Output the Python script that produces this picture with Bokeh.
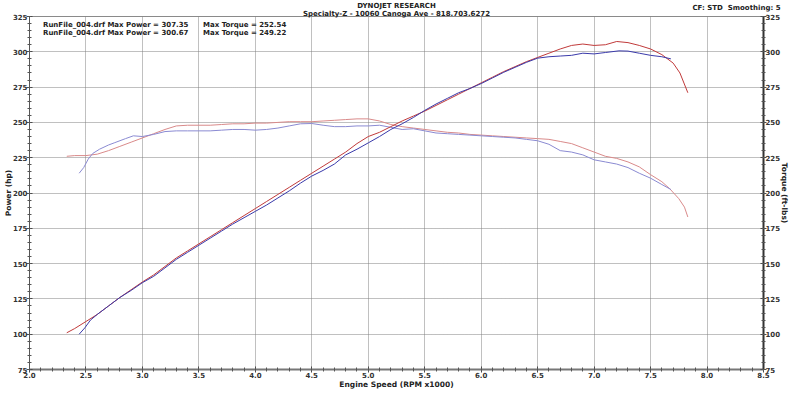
from bokeh.plotting import figure
from bokeh.models import (Range1d, LinearAxis, FixedTicker, PrintfTickFormatter,
                          Title, Legend, LegendItem, ColumnDataSource)
from bokeh.embed import file_html
from bokeh.resources import INLINE

# ---------------- data ----------------
rpm_power_red = [2.33, 2.40, 2.50, 2.60, 2.70, 2.80, 2.90, 3.00, 3.10, 3.20, 3.30, 3.40, 3.50,
                 3.60, 3.70, 3.80, 3.90, 4.00, 4.10, 4.20, 4.30, 4.40, 4.50, 4.60, 4.70, 4.80,
                 4.90, 5.00, 5.10, 5.20, 5.30, 5.40, 5.50, 5.60, 5.70, 5.80, 5.90, 6.00, 6.10,
                 6.20, 6.30, 6.40, 6.50, 6.60, 6.70, 6.80, 6.90, 7.00, 7.10, 7.20, 7.30, 7.40,
                 7.50, 7.60, 7.70, 7.76, 7.83]
hp_red = [101, 104, 109, 114, 120, 126, 131.5, 137, 142, 148, 154, 159, 164,
          169, 174, 179, 184, 189, 194, 199, 204, 209, 214, 219, 224, 229,
          235, 240, 243, 247, 251, 254.5, 258, 262, 266, 270, 274, 278, 282,
          286, 289.5, 293, 296, 299, 302, 304.5, 305.5, 304.5, 305, 307.3, 306.5, 304.5,
          302, 298, 292, 285, 271]

rpm_power_blue = [2.44, 2.49, 2.54, 2.60, 2.70, 2.80, 2.90, 3.00, 3.10, 3.20, 3.30, 3.40, 3.50,
                  3.60, 3.70, 3.80, 3.90, 4.00, 4.10, 4.20, 4.30, 4.40, 4.50, 4.60, 4.70, 4.80,
                  4.90, 5.00, 5.10, 5.20, 5.30, 5.40, 5.50, 5.60, 5.70, 5.80, 5.90, 6.00, 6.10,
                  6.20, 6.30, 6.40, 6.50, 6.60, 6.70, 6.80, 6.90, 7.00, 7.10, 7.22, 7.30, 7.40,
                  7.50, 7.60, 7.68]
hp_blue = [100, 104.5, 110, 114, 120, 126, 131, 136.5, 141, 147, 153, 158, 163,
           168, 173, 178, 182.5, 187, 191.5, 196.5, 201.5, 207, 212, 216, 220.5, 227,
           231, 235.5, 240, 245, 249, 253.5, 258.5, 263, 267, 271, 274, 277.5, 281.5,
           285.5, 289, 292.5, 295.5, 296.5, 297, 297.5, 299, 298.5, 299.5, 300.67, 300.5, 299,
           297.5, 296.5, 295]

rpm_torque_red = [2.33, 2.40, 2.50, 2.60, 2.70, 2.80, 2.90, 3.00, 3.10, 3.20, 3.30, 3.40, 3.50,
                  3.60, 3.70, 3.80, 3.90, 4.00, 4.10, 4.20, 4.30, 4.40, 4.50, 4.60, 4.70, 4.80,
                  4.90, 5.00, 5.10, 5.20, 5.30, 5.40, 5.50, 5.60, 5.70, 5.80, 5.90, 6.00, 6.10,
                  6.20, 6.30, 6.40, 6.50, 6.60, 6.70, 6.80, 6.90, 7.00, 7.10, 7.20, 7.30, 7.40,
                  7.50, 7.60, 7.67, 7.75, 7.80, 7.83]
tq_red = [226, 226.5, 226.5, 227.5, 230, 233, 236, 239, 242, 245, 247.5, 248, 248,
          248, 248.5, 249, 249, 249.5, 249.5, 250, 250.5, 250.5, 250.5, 251, 251.5, 252,
          252.5, 252.5, 251, 248.5, 247, 246, 245, 244, 243, 242.5, 241.5, 241, 240.5,
          240, 239.5, 239, 238.5, 238, 236.5, 235, 232, 229, 226, 224.5, 222, 218.5,
          213, 208, 203, 196, 190, 183]

rpm_torque_blue = [2.44, 2.48, 2.52, 2.56, 2.62, 2.70, 2.75, 2.85, 2.92, 3.00, 3.10, 3.20, 3.30,
                   3.40, 3.50, 3.60, 3.70, 3.80, 3.90, 4.00, 4.10, 4.20, 4.30, 4.40, 4.50, 4.60,
                   4.70, 4.80, 4.90, 5.00, 5.10, 5.20, 5.30, 5.40, 5.50, 5.60, 5.70, 5.80, 5.90,
                   6.00, 6.10, 6.20, 6.30, 6.40, 6.50, 6.60, 6.70, 6.80, 6.90, 7.00, 7.10, 7.20,
                   7.30, 7.40, 7.50, 7.60, 7.68]
tq_blue = [214, 218, 224, 228, 231, 234, 235.5, 238.5, 240.5, 240, 241.5, 243.5, 244,
           244, 244, 244, 244.5, 245, 245, 244.5, 245, 246, 247.5, 249, 249.22, 248,
           247, 247, 247.5, 247.5, 248, 246.5, 245, 245.5, 244, 242.5, 242, 241.5, 241,
           240.5, 240, 239.5, 239, 238, 237, 234.5, 230, 229, 227, 223.5, 222, 220.5,
           218, 214, 210.5, 206, 202.5]

x_ticks = [2.0, 2.5, 3.0, 3.5, 4.0, 4.5, 5.0, 5.5, 6.0, 6.5, 7.0, 7.5, 8.0, 8.5]
x_minor = [round(2.0 + 0.1 * i, 1) for i in range(66)]
y_ticks = [75, 100, 125, 150, 175, 200, 225, 250, 275, 300, 325]
y_minor = list(range(75, 326, 5))

legend_labels = [
    "RunFile_004.drf Max Power = 307.35\u00a0\u00a0\u00a0\u00a0\u00a0\u00a0Max Torque = 252.54",
    "RunFile_004.drf Max Power = 300.67\u00a0\u00a0\u00a0\u00a0\u00a0\u00a0Max Torque = 249.22",
]
title1 = "DYNOJET RESEARCH"
title2 = "Specialty-Z - 10060 Canoga Ave - 818.703.6272"
corner = "CF: STD\u00a0\u00a0Smoothing: 5"

# ---------------- styles ----------------
FONT = "DejaVu Sans"
RED = "#c03a3a"
BLUE = "#3a3aaa"
RED_T = "#d98a8a"
BLUE_T = "#8a8ad2"

p = figure(width=792, height=391, output_backend="svg", toolbar_location=None,
           x_range=Range1d(2.0, 8.5), y_range=Range1d(75, 325),
           min_border=0,
           background_fill_color="white", border_fill_color="white")
p.outline_line_color = "#8a8a8a"
p.outline_line_width = 1
p.extra_y_ranges = {"torque": Range1d(75, 325)}

xt = FixedTicker(ticks=x_ticks, minor_ticks=x_minor)
yt = FixedTicker(ticks=y_ticks, minor_ticks=y_minor)

right_axis = LinearAxis(y_range_name="torque", axis_label="Torque (ft-lbs)")
p.add_layout(right_axis, "right")

for ax in [p.xaxis[0], p.yaxis[0], right_axis]:
    ax.major_label_text_font = FONT
    ax.major_label_text_font_size = "7px"
    ax.major_label_text_font_style = "bold"
    ax.major_label_text_color = "#333333"
    ax.axis_label_text_font = FONT
    ax.axis_label_text_font_size = "7.5px"
    ax.axis_label_text_font_style = "bold"
    ax.axis_label_text_color = "#222222"
    ax.major_tick_in = 3
    ax.major_tick_out = 3
    ax.minor_tick_in = 2
    ax.minor_tick_out = 2
    ax.major_tick_line_color = "#444444"
    ax.minor_tick_line_color = "#555555"
    ax.major_label_standoff = -1
    ax.axis_label_standoff = -3

p.xaxis[0].ticker = xt
p.xaxis[0].formatter = PrintfTickFormatter(format="%.1f")
p.xaxis[0].axis_label = "Engine Speed (RPM x1000)"
p.xaxis[0].axis_line_width = 2
p.xaxis[0].axis_line_color = "#777777"
p.xaxis[0].axis_label_standoff = -1

p.yaxis[0].ticker = yt
p.yaxis[0].axis_label = "Power (hp)"
p.yaxis[0].axis_line_color = "#555555"

right_axis.ticker = yt
right_axis.axis_line_width = 2
right_axis.axis_line_color = "#333333"

p.xgrid.ticker = xt
p.ygrid.ticker = yt
for g in [p.xgrid[0], p.ygrid[0]]:
    g.grid_line_color = "#808080"
    g.grid_line_dash = "1 1"
    g.grid_line_width = 1

# ---------------- curves ----------------
p.line(rpm_torque_red, tq_red, line_color=RED_T, line_width=1, y_range_name="torque")
p.line(rpm_torque_blue, tq_blue, line_color=BLUE_T, line_width=1, y_range_name="torque")
p.line(rpm_power_red, hp_red, line_color=RED, line_width=1)
p.line(rpm_power_blue, hp_blue, line_color=BLUE, line_width=1)

# ---------------- legend ----------------
empty_r = ColumnDataSource(data=dict(x=[], y=[]))
empty_b = ColumnDataSource(data=dict(x=[], y=[]))
lr = p.scatter("x", "y", source=empty_r, marker="square", size=7,
               fill_color="#d04040", line_color="#802020")
lb = p.scatter("x", "y", source=empty_b, marker="square", size=7,
               fill_color="#4040d0", line_color="#202080")
legend = Legend(items=[LegendItem(label=legend_labels[0], renderers=[lr]),
                       LegendItem(label=legend_labels[1], renderers=[lb])],
                location="top_left", margin=3, padding=2, spacing=0,
                label_height=8, glyph_height=7, glyph_width=7, label_standoff=2,
                label_text_font=FONT, label_text_font_size="7px",
                label_text_font_style="bold", label_text_color="#222222",
                border_line_alpha=0, background_fill_alpha=0)
p.add_layout(legend)

# ---------------- titles (stacked above the frame) ----------------
common = dict(text_font=FONT, text_font_size="7px", text_font_style="bold",
              text_color="#222222")
p.add_layout(Title(text=title2, align="center", standoff=-2, **common), "above")
p.add_layout(Title(text=corner, align="right", vertical_align="top", offset=-17,
                   standoff=-10, **common), "above")
p.add_layout(Title(text=title1, align="center", standoff=-2, **common), "above")

open("out.html", "w").write(file_html(p, INLINE))
